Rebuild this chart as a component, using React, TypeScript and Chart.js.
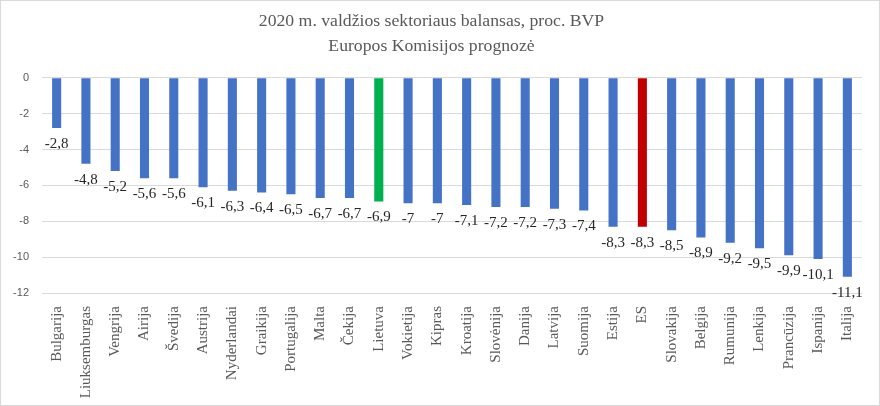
import React, { useEffect, useRef } from "react";
import { Chart, registerables } from "chart.js";

Chart.register(...registerables);

const categories = [
  "Bulgarija", "Liuksemburgas", "Vengrija", "Airija", "Švedija", "Austrija",
  "Nyderlandai", "Graikija", "Portugalija", "Malta", "Čekija", "Lietuva",
  "Vokietija", "Kipras", "Kroatija", "Slovėnija", "Danija", "Latvija",
  "Suomija", "Estija", "ES", "Slovakija", "Belgija", "Rumunija", "Lenkija",
  "Prancūzija", "Ispanija", "Italija",
];

const values = [
  -2.8, -4.8, -5.2, -5.6, -5.6, -6.1, -6.3, -6.4, -6.5, -6.7, -6.7, -6.9,
  -7, -7, -7.1, -7.2, -7.2, -7.3, -7.4, -8.3, -8.3, -8.5, -8.9, -9.2, -9.5,
  -9.9, -10.1, -11.1,
];

const titleLines = ["2020 m. valdžios sektoriaus balansas, proc. BVP", "Europos Komisijos prognozė"];

const BLUE = "#4472C4";
const GREEN = "#00B050";
const RED = "#C00000";

const barColors = categories.map((c) =>
  c === "Lietuva" ? GREEN : c === "ES" ? RED : BLUE
);

const fmt = (v: number) => String(v).replace(".", ",");

const dataLabelPlugin = {
  id: "dataLabels",
  afterDatasetsDraw(chart: any) {
    const ctx = chart.ctx;
    const meta = chart.getDatasetMeta(0);
    ctx.save();
    ctx.font = '15px "Liberation Serif", "Times New Roman", serif';
    ctx.fillStyle = "#262626";
    ctx.textAlign = "center";
    ctx.textBaseline = "middle";
    meta.data.forEach((el: any, i: number) => {
      const v = chart.data.datasets[0].data[i] as number;
      ctx.fillText(fmt(v), el.x, el.y + 16);
    });
    ctx.restore();
  },
};

export default function App() {
  const ref = useRef<HTMLCanvasElement>(null);

  useEffect(() => {
    document.body.style.margin = "0";
    const chart = new Chart(ref.current!, {
      type: "bar",
      data: {
        labels: categories,
        datasets: [
          {
            data: values,
            backgroundColor: barColors,
            categoryPercentage: 1,
            barPercentage: 0.31,
          },
        ],
      },
      options: {
        animation: false,
        responsive: false,
        maintainAspectRatio: false,
        layout: { padding: { left: 0, right: 17, top: 0, bottom: 0 } },
        plugins: {
          legend: { display: false },
          tooltip: { enabled: false },
          title: {
            display: true,
            text: titleLines,
            color: "#595959",
            font: { family: '"Liberation Serif", "Times New Roman", serif', size: 17.7, weight: "normal", lineHeight: 1.42 },
            padding: { top: 8, bottom: 18.5 },
          },
        },
        scales: {
          x: {
            grid: { display: false },
            border: { display: false },
            ticks: {
              color: "#595959",
              font: { family: '"Liberation Serif", "Times New Roman", serif', size: 15 },
              minRotation: 90,
              maxRotation: 90,
              autoSkip: false,
              padding: 5,
            },
            afterFit: (scale: any) => {
              scale.height = 112;
            },
          },
          y: {
            min: -12,
            max: 0,
            grid: { color: "#D9D9D9", drawTicks: false },
            border: { display: false },
            ticks: {
              stepSize: 2,
              color: "#595959",
              font: { family: '"Liberation Sans", Arial, sans-serif', size: 11 },
              padding: 13,
            },
            afterFit: (scale: any) => {
              scale.width = 41;
            },
          },
        },
      },
      plugins: [dataLabelPlugin],
    });
    return () => chart.destroy();
  }, []);

  return (
    <div
      style={{
        width: 880,
        height: 406,
        border: "1px solid #D9D9D9",
        boxSizing: "border-box",
        background: "#fff",
      }}
    >
      <canvas ref={ref} width={878} height={404} style={{ display: "block" }} />
    </div>
  );
}
